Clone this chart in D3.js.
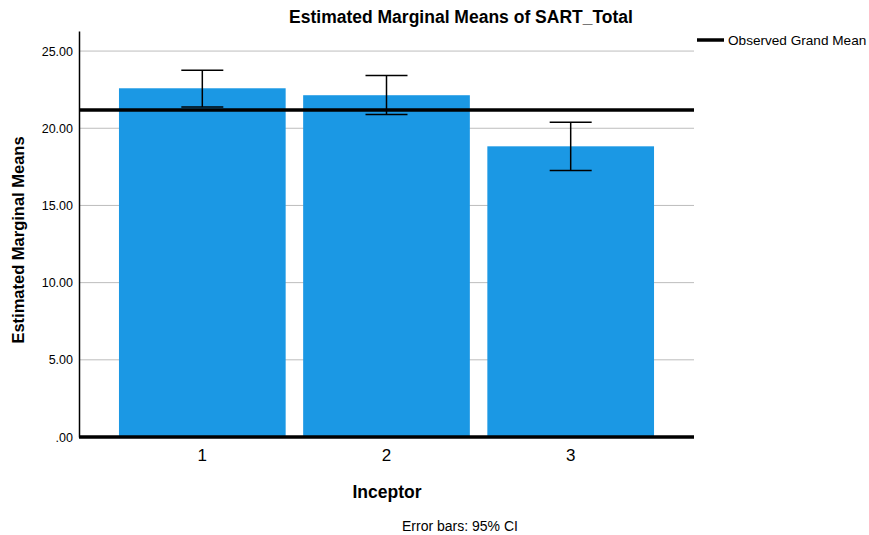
<!DOCTYPE html>
<html>
<head>
<meta charset="utf-8">
<script src="https://cdn.jsdelivr.net/npm/d3@7"></script>
<style>
  html, body { margin: 0; padding: 0; background: #fff; }
  text { font-family: "Liberation Sans", Arial, sans-serif; fill: #000; }
</style>
</head>
<body>
<svg id="chart" width="869" height="535"></svg>
<script>
// Estimated marginal means of SART_Total by Inceptor, with 95% CI
const categories = ["1", "2", "3"];
const means = [22.59, 22.14, 18.83];
const ciLower = [21.38, 20.89, 17.26];
const ciUpper = [23.75, 23.41, 20.39];
const grandMean = 21.18;
const yTicks = [0, 5, 10, 15, 20, 25];
const yTickLabels = [".00", "5.00", "10.00", "15.00", "20.00", "25.00"];

const svg = d3.select("#chart");
const plotLeft = 79, plotRight = 694, plotTop = 31, plotBottom = 437;

const x = d3.scaleBand()
  .domain(categories)
  .range([plotLeft, plotRight])
  .paddingInner(0.095)
  .paddingOuter(0.217);

const y = d3.scaleLinear()
  .domain([0, 26.3])
  .range([plotBottom, plotTop]);

// gridlines
svg.append("g")
  .selectAll("line")
  .data(yTicks.filter(d => d > 0))
  .join("line")
  .attr("x1", plotLeft).attr("x2", plotRight)
  .attr("y1", d => y(d)).attr("y2", d => y(d))
  .attr("stroke", "#bdbdbd").attr("stroke-width", 1);

// y axis
const yAxis = d3.axisLeft(y)
  .tickValues(yTicks)
  .tickFormat((d, i) => yTickLabels[i])
  .tickSize(0)
  .tickPadding(6);
const gy = svg.append("g").attr("transform", `translate(${plotLeft},0)`).call(yAxis);
gy.select(".domain").attr("stroke", "#000").attr("stroke-width", 1.5);
gy.selectAll(".tick text")
  .attr("font-size", 12.5)
  .attr("font-family", "Liberation Sans, Arial, sans-serif")
  .attr("fill", "#000");

// bars
svg.append("g")
  .selectAll("rect")
  .data(categories)
  .join("rect")
  .attr("x", d => x(d))
  .attr("width", x.bandwidth())
  .attr("y", (d, i) => y(means[i]))
  .attr("height", (d, i) => y(0) - y(means[i]))
  .attr("fill", "#1b98e4");

// error bars
const capHalf = 21;
const eb = svg.append("g").attr("stroke", "#000").attr("stroke-width", 1.5);
categories.forEach((c, i) => {
  const cx = x(c) + x.bandwidth() / 2;
  eb.append("line").attr("x1", cx).attr("x2", cx)
    .attr("y1", y(ciLower[i])).attr("y2", y(ciUpper[i]));
  eb.append("line").attr("x1", cx - capHalf).attr("x2", cx + capHalf)
    .attr("y1", y(ciUpper[i])).attr("y2", y(ciUpper[i]));
  eb.append("line").attr("x1", cx - capHalf).attr("x2", cx + capHalf)
    .attr("y1", y(ciLower[i])).attr("y2", y(ciLower[i]));
});

// observed grand mean reference line
svg.append("line")
  .attr("x1", plotLeft).attr("x2", plotRight)
  .attr("y1", y(grandMean)).attr("y2", y(grandMean))
  .attr("stroke", "#000").attr("stroke-width", 3.5);

// x axis (thick baseline)
const xAxis = d3.axisBottom(x).tickSize(0).tickPadding(12);
const gx = svg.append("g").attr("transform", `translate(0,${plotBottom})`).call(xAxis);
gx.select(".domain").remove();
svg.append("line")
  .attr("x1", plotLeft).attr("x2", plotRight)
  .attr("y1", y(0)).attr("y2", y(0))
  .attr("stroke", "#000").attr("stroke-width", 3.5);
gx.selectAll(".tick text")
  .attr("font-size", 17)
  .attr("font-family", "Liberation Sans, Arial, sans-serif")
  .attr("fill", "#000");

// title
svg.append("text")
  .attr("x", 461).attr("y", 23)
  .attr("text-anchor", "middle")
  .attr("font-size", 17.5).attr("font-weight", "bold")
  .text("Estimated Marginal Means of SART_Total");

// axis titles
svg.append("text")
  .attr("x", 387).attr("y", 498)
  .attr("text-anchor", "middle")
  .attr("font-size", 17.5).attr("font-weight", "bold")
  .text("Inceptor");

svg.append("text")
  .attr("transform", `translate(24,${(plotTop + plotBottom) / 2 + 6}) rotate(-90)`)
  .attr("text-anchor", "middle")
  .attr("font-size", 16.5).attr("font-weight", "bold")
  .text("Estimated Marginal Means");

// footnote
svg.append("text")
  .attr("x", 460).attr("y", 531)
  .attr("text-anchor", "middle")
  .attr("font-size", 14)
  .text("Error bars: 95% CI");

// legend
svg.append("line")
  .attr("x1", 697).attr("x2", 724)
  .attr("y1", 40).attr("y2", 40)
  .attr("stroke", "#000").attr("stroke-width", 3.5);
svg.append("text")
  .attr("x", 728).attr("y", 45)
  .attr("font-size", 13.6)
  .text("Observed Grand Mean");
</script>
</body>
</html>
